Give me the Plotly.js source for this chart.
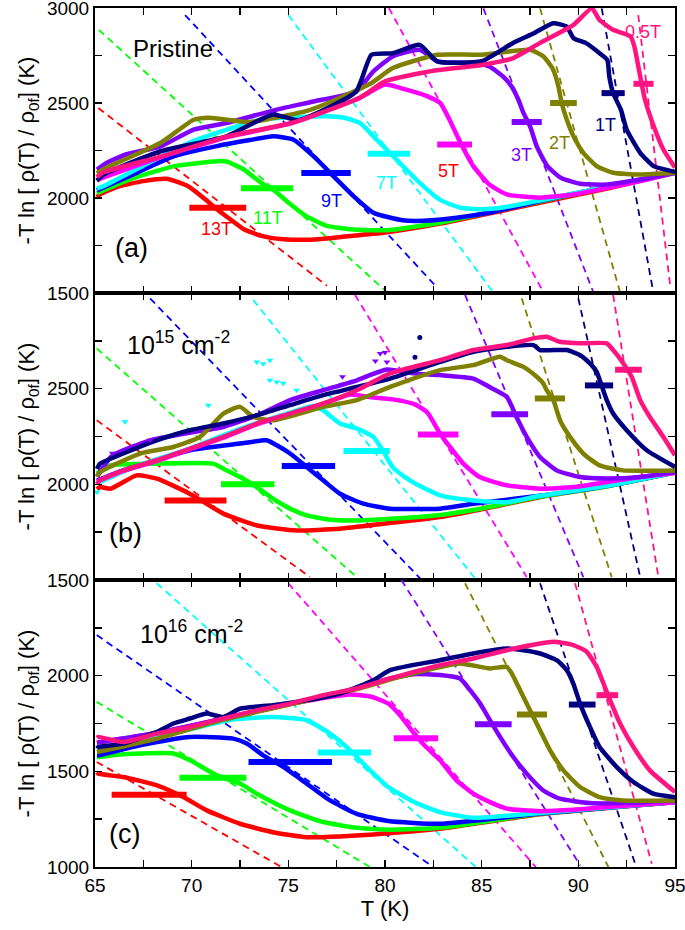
<!DOCTYPE html>
<html>
<head>
<meta charset="utf-8">
<script src="https://cdn.plot.ly/plotly-3.0.1.min.js"></script>
<style>
  body { margin: 0; background: #fff; }
  #viz { width: 685px; height: 930px; }
</style>
</head>
<body>
<div id="viz"></div>
<script>
// field order used everywhere below
var fields = ['13T', '11T', '9T', '7T', '5T', '3T', '2T', '1T', '0.5T'];
var colors = ['#ff0000', '#00ff00', '#0000ff', '#00ffff', '#ff00ff', '#8000ff', '#808000', '#000080', '#ff1480'];

// ---------- panel (a) : pristine ----------
var aT13 = [65.1, 65.26, 66.2, 67.5, 68.7, 69.8, 70.7, 71.3, 72.0, 72.7, 73.6, 74.75, 75.9, 77.0, 78.2, 80.0, 82.85, 85, 88, 91.5, 95];
var aV13 = [2005, 2019, 2060, 2089, 2101, 2063, 1993, 1941, 1888, 1836, 1801, 1783, 1780, 1787, 1800, 1818, 1865, 1910, 1975, 2050, 2133];
var aT11 = [65.1, 66.8, 69.1, 71.3, 71.8, 72.7, 73.6, 74.3, 75.0, 75.9, 77.0, 78.2, 79.3, 80.4, 82.85, 85, 88, 91.5, 95];
var aV11 = [2025, 2098, 2168, 2194, 2192, 2150, 2080, 2037, 1976, 1906, 1853, 1836, 1830, 1833, 1870, 1916, 1982, 2058, 2133];
var aT9 = [65.1, 66.8, 69.1, 71.3, 73.0, 74.24, 75.27, 76.3, 77.33, 78.37, 79.4, 80.9, 82.0, 83.8, 85.5, 88, 91.5, 95];
var aV9 = [2040, 2116, 2220, 2273, 2305, 2325, 2307, 2220, 2115, 2010, 1923, 1883, 1880, 1897, 1925, 1984, 2060, 2133];
var aT7 = [65.1, 65.43, 67.5, 70.08, 73.54, 75.9, 77.0, 78.0, 78.7, 79.57, 80.3, 81.1, 81.8, 82.85, 83.9, 85.0, 86.1, 88, 91.5, 95];
var aV7 = [2050, 2062, 2170, 2300, 2412, 2428, 2430, 2420, 2395, 2307, 2233, 2150, 2080, 1990, 1949, 1941, 1950, 1987, 2060, 2133];
var aT5 = [65.1, 68.4, 71.8, 75.2, 78.7, 80.0, 81.1, 82.2, 82.85, 83.3, 83.9, 84.57, 85.4, 86.3, 88.0, 89.75, 91.5, 93.2, 95];
var aV5 = [2095, 2215, 2320, 2395, 2528, 2597, 2570, 2535, 2501, 2420, 2291, 2168, 2071, 2019, 2002, 2019, 2054, 2089, 2132];
var aT3 = [65.1, 65.6, 66.6, 68.4, 70.1, 71.8, 74.4, 76.3, 78.5, 79.4, 80.4, 81.8, 82.7, 84.57, 85.4, 86.1, 86.55, 86.9, 87.16, 87.5, 87.85, 88.4, 89.1, 90.1, 91.5, 93.2, 95];
var aV3 = [2150, 2185, 2229, 2272, 2360, 2395, 2465, 2508, 2560, 2666, 2745, 2780, 2719, 2710, 2692, 2640, 2587, 2517, 2448, 2378, 2272, 2168, 2106, 2075, 2071, 2097, 2132];
var aT2 = [65.1, 65.4, 68.4, 70.1, 70.9, 73.0, 76.0, 77.5, 79.3, 80.4, 82.7, 85.0, 87.5, 88.2, 88.7, 88.97, 89.14, 89.4, 89.75, 90.26, 90.95, 91.8, 93.2, 95];
var aV2 = [2130, 2150, 2291, 2412, 2423, 2400, 2460, 2520, 2605, 2684, 2754, 2754, 2780, 2745, 2675, 2587, 2500, 2413, 2325, 2238, 2168, 2133, 2124, 2133];
var aT1 = [65.1, 65.45, 68.4, 71.8, 74.2, 75.5, 78.5, 79.3, 80.4, 81.8, 82.7, 85.0, 86.6, 87.7, 88.7, 89.4, 89.75, 90.4, 91.1, 91.5, 91.6, 91.8, 92.2, 92.5, 93.2, 93.9, 95];
var aV1 = [2090, 2124, 2246, 2325, 2440, 2410, 2560, 2754, 2762, 2806, 2719, 2720, 2815, 2867, 2920, 2902, 2841, 2815, 2762, 2727, 2640, 2552, 2465, 2360, 2238, 2168, 2138];
var aT05 = [65.1, 65.4, 68.4, 71.8, 75.2, 78.7, 80.0, 82.5, 85.0, 86.6, 88.0, 89.75, 90.7, 91.1, 91.8, 92.7, 92.9, 93.2, 93.45, 93.9, 94.4, 95];
var aV05 = [2110, 2134, 2218, 2323, 2396, 2528, 2614, 2670, 2700, 2735, 2815, 2911, 2998, 2937, 2885, 2850, 2797, 2640, 2517, 2378, 2255, 2160];

var aDashT0 = [65.17, 65.2, 69.66, 75.0, 80.2, 85.09, 88.02, 91.21, 93.1];
var aDashV0 = [2474, 2885, 2963, 2963, 3000, 2998, 2998, 2998, 2963];
var aDashT1 = [77.0, 80.1, 82.6, 85.6, 88.2, 90.78, 92.16, 93.88, 94.75];
var aDashV1 = [1538, 1504, 1539, 1503, 1503, 1503, 1503, 1503, 1538];

var aTc = [71.35, 73.9, 76.95, 80.2, 83.6, 87.33, 89.23, 91.8, 93.37];
var aTcErr = [1.47, 1.35, 1.28, 1.1, 0.9, 0.78, 0.69, 0.6, 0.52];
var aTcV = [1949, 2051, 2131, 2233, 2282, 2400, 2500, 2552, 2601];

// field labels (panel a only): T, value
var labT = [71.3, 73.97, 77.25, 80.1, 83.3, 87.07, 89.05, 91.38, 93.37];
var labV = [1835, 1897, 1984, 2081, 2141, 2229, 2290, 2386, 2876];
var labColors = ['#ff0000', '#00ff00', '#0000ff', '#00ffff', '#ff0000', '#8000ff', '#808000', '#000080', '#ff1480'];

// ---------- panel (b) : 10^15 cm^-2 ----------
var bT13 = [65.1, 65.26, 65.8, 67.16, 68.2, 69.9, 71.64, 73.37, 75.43, 77.67, 80.0, 82.85, 85.0, 88.0, 91.5, 95];
var bV13 = [1975, 1986, 1977, 2047, 2030, 1951, 1847, 1785, 1759, 1768, 1795, 1829, 1870, 1933, 1990, 2062];
var bT11 = [65.1, 65.8, 68.2, 71.1, 71.64, 72.5, 73.37, 74.2, 75.09, 75.95, 77.16, 78.54, 80.26, 82.85, 85, 88, 91.5, 95];
var bV11 = [2056, 2099, 2108, 2108, 2082, 2038, 1986, 1925, 1873, 1838, 1815, 1811, 1820, 1840, 1874, 1935, 1990, 2062];
var bT9 = [65.1, 66.46, 69.91, 72.5, 73.88, 74.4, 75.09, 75.95, 76.8, 77.67, 78.88, 80.26, 82.85, 84.57, 88, 91.5, 95];
var bV9 = [2020, 2073, 2178, 2213, 2230, 2204, 2161, 2091, 2021, 1951, 1899, 1873, 1873, 1899, 1940, 1992, 2062];
var bT7 = [65.1, 67.0, 69.9, 72.5, 75.09, 76.3, 76.8, 77.67, 78.54, 79.4, 79.9, 80.4, 81.0, 81.55, 82.85, 84.57, 86.3, 88, 91.5, 95];
var bV7 = [2005, 2090, 2187, 2290, 2375, 2410, 2387, 2318, 2292, 2248, 2174, 2090, 2040, 2005, 1942, 1916, 1907, 1940, 1992, 2062];
var bT5 = [65.1, 66.46, 68.19, 69.91, 71.64, 73.37, 75.09, 76.8, 78.2, 79.3, 80.4, 81.55, 82.2, 82.85, 83.37, 84.05, 84.9, 86.3, 88.02, 89.74, 91.47, 93.2, 95];
var bV5 = [2015, 2070, 2122, 2183, 2244, 2314, 2366, 2420, 2470, 2455, 2444, 2418, 2374, 2265, 2195, 2108, 2038, 1995, 1977, 1986, 2012, 2038, 2059];
var bT3 = [65.1, 65.9, 67.85, 69.9, 71.64, 73.37, 75.09, 76.8, 78.54, 80.1, 81.5, 82.85, 84.57, 85.4, 86.3, 86.8, 87.33, 88.02, 88.88, 90.09, 91.47, 93.2, 95];
var bV3 = [2040, 2150, 2230, 2270, 2300, 2360, 2440, 2492, 2544, 2600, 2580, 2571, 2553, 2509, 2457, 2352, 2248, 2143, 2073, 2038, 2030, 2038, 2064];
var bT2 = [65.1, 65.26, 67.33, 69.05, 70.43, 71.64, 72.5, 73.19, 74.2, 76.8, 78.54, 80.26, 82.85, 84.57, 85.95, 86.3, 87.16, 87.85, 88.19, 88.36, 88.71, 89.05, 89.57, 90.26, 91.1, 92.3, 95];
var bV2 = [2040, 2064, 2161, 2195, 2248, 2370, 2405, 2352, 2335, 2405, 2440, 2509, 2597, 2623, 2667, 2649, 2614, 2562, 2527, 2492, 2440, 2335, 2248, 2161, 2099, 2073, 2073];
var bT1 = [65.1, 65.26, 66.46, 68.19, 69.91, 71.64, 73.37, 75.09, 76.8, 78.54, 80.26, 82.85, 84.57, 86.3, 87.68, 88.02, 89.4, 90.09, 90.6, 90.95, 91.2, 91.47, 91.8, 92.5, 93.54, 95];
var bV1 = [2080, 2108, 2161, 2230, 2283, 2318, 2361, 2414, 2466, 2509, 2553, 2640, 2693, 2719, 2728, 2702, 2702, 2675, 2632, 2588, 2518, 2440, 2370, 2283, 2178, 2091];
var bT05 = [65.1, 65.26, 66.46, 68.19, 69.91, 71.64, 73.37, 75.09, 76.8, 78.54, 80.26, 82.85, 84.57, 86.3, 87.68, 88.36, 89.05, 90.09, 91.47, 91.8, 92.33, 92.76, 93.2, 93.7, 94.4, 95];
var bV05 = [2000, 2021, 2073, 2126, 2187, 2248, 2318, 2370, 2423, 2492, 2580, 2649, 2702, 2728, 2763, 2771, 2745, 2737, 2737, 2702, 2632, 2562, 2440, 2352, 2248, 2152];

// scattered points off the curves in panel (b)
var bOutCyanT = [65.1, 66.55, 70.86, 73.37, 73.7, 74.05, 74.05, 74.4, 74.74, 75.43];
var bOutCyanV = [1960, 2327, 2414, 2640, 2630, 2649, 2544, 2535, 2528, 2492];
var bOutVioT = [65.9, 67.85, 77.8, 79.5, 79.75, 80.0, 80.1];
var bOutVioV = [2162, 2230, 2563, 2645, 2684, 2689, 2640];
var bOutNavyT = [81.55, 81.8];
var bOutNavyV = [2664, 2767];

var bDashT0 = [65.09, 65.09, 67.85, 73.19, 78.45, 84.14, 87.07, 90.0, 91.8];
var bDashV0 = [2335, 2710, 2972, 2963, 2990, 2990, 2972, 2972, 2990];
var bDashT1 = [76.12, 78.54, 81.9, 84.75, 87.33, 90.26, 91.73, 93.2, 94.14];
var bDashV1 = [1515, 1515, 1500, 1497, 1515, 1515, 1515, 1515, 1515];

var bTc = [70.2, 72.9, 76.04, 79.05, 82.75, 86.45, 88.53, 91.07, 92.59];
var bTcErr = [1.6, 1.38, 1.38, 1.2, 1.05, 0.95, 0.78, 0.73, 0.69];
var bTcV = [1916, 2000, 2096, 2174, 2261, 2366, 2449, 2517, 2599];

// ---------- panel (c) : 10^16 cm^-2 ----------
var cT13 = [65.1, 65.17, 66.46, 68.2, 69.57, 70.78, 72.5, 74.2, 75.95, 77.67, 79.4, 80.26, 82.85, 88.0, 95];
var cV13 = [1495, 1488, 1470, 1427, 1366, 1296, 1226, 1182, 1156, 1160, 1170, 1177, 1200, 1276, 1339];
var cT11 = [65.1, 65.17, 66.46, 69.05, 69.91, 71.3, 72.5, 73.37, 75.09, 76.8, 78.54, 80.26, 82.85, 88.0, 95];
var cV11 = [1575, 1575, 1589, 1593, 1558, 1479, 1436, 1383, 1296, 1235, 1205, 1195, 1205, 1278, 1340];
var cT9 = [65.1, 65.17, 67.33, 69.91, 72.15, 72.85, 73.7, 74.74, 75.95, 77.16, 78.54, 80.17, 82.85, 88.0, 95];
var cV9 = [1584, 1584, 1636, 1680, 1671, 1645, 1584, 1523, 1436, 1348, 1278, 1240, 1226, 1280, 1340];
var cT7 = [65.1, 67.33, 69.91, 72.0, 74.2, 75.95, 77.16, 78.2, 79.23, 80.17, 81.5, 82.85, 84.57, 88.0, 95];
var cV7 = [1610, 1665, 1720, 1770, 1784, 1767, 1697, 1610, 1505, 1418, 1340, 1287, 1257, 1282, 1340];
var cT5 = [65.1, 68.2, 71.64, 75.09, 78.2, 79.3, 80.2, 80.8, 81.4, 82.0, 82.85, 83.7, 84.57, 85.43, 86.3, 88.02, 89.74, 91.47, 95];
var cV5 = [1650, 1700, 1776, 1852, 1902, 1890, 1852, 1790, 1712, 1640, 1558, 1453, 1383, 1339, 1305, 1292, 1299, 1313, 1339];
var cT3 = [65.1, 68.2, 71.64, 75.09, 78.54, 80.26, 81.5, 82.85, 83.88, 84.4, 84.92, 85.43, 85.95, 86.64, 87.33, 88.19, 89.05, 90.6, 92.33, 95];
var cV3 = [1650, 1700, 1776, 1852, 1933, 1985, 2008, 2003, 1985, 1924, 1854, 1767, 1680, 1575, 1488, 1400, 1357, 1334, 1334, 1348];
var cT2 = [65.1, 66.46, 68.2, 71.64, 75.09, 78.54, 80.26, 82.85, 83.88, 85.43, 86.3, 86.56, 86.99, 87.5, 88.02, 88.54, 89.23, 90.09, 91.1, 92.33, 95];
var cV2 = [1601, 1630, 1671, 1770, 1850, 1930, 1980, 2045, 2064, 2038, 2046, 2011, 1924, 1819, 1715, 1610, 1505, 1418, 1365, 1348, 1348];
var cT1 = [65.1, 65.17, 66.46, 68.2, 69.05, 69.91, 70.78, 71.64, 72.5, 74.2, 75.95, 77.67, 79.4, 80.26, 82.85, 84.57, 86.3, 87.16, 88.02, 88.88, 89.4, 89.74, 90.09, 90.6, 91.1, 91.99, 92.85, 93.88, 95];
var cV1 = [1620, 1627, 1645, 1706, 1750, 1776, 1802, 1784, 1828, 1846, 1872, 1907, 1976, 2029, 2081, 2116, 2142, 2133, 2116, 2081, 2029, 1959, 1854, 1732, 1627, 1522, 1444, 1383, 1365];
var cT05 = [65.1, 65.17, 66.46, 68.2, 69.91, 71.64, 73.37, 75.09, 76.8, 78.54, 80.26, 82.85, 84.57, 86.3, 88.02, 88.71, 89.74, 90.43, 90.95, 91.3, 91.64, 92.16, 92.85, 93.7, 95];
var cV05 = [1675, 1680, 1653, 1697, 1732, 1776, 1819, 1854, 1898, 1933, 1985, 2055, 2090, 2133, 2168, 2177, 2160, 2125, 2046, 1959, 1872, 1750, 1627, 1505, 1392];

var cDashT0 = [65.09, 65.09, 65.09, 68.19, 75.0, 80.85, 84.14, 88.02, 89.83];
var cDashV0 = [1549, 1863, 2212, 2483, 2483, 2500, 2483, 2483, 2483];
var cDashT1 = [74.66, 79.23, 82.5, 84.7, 87.8, 90.1, 91.56, 93.0, 93.8];
var cDashV1 = [999, 999, 1000, 1000, 1000, 1008, 999, 999, 1017];

var cTc = [67.8, 71.1, 75.1, 77.9, 81.6, 85.6, 87.6, 90.2, 91.5];
var cTcErr = [1.94, 1.73, 2.16, 1.38, 1.15, 0.95, 0.78, 0.69, 0.56];
var cTcV = [1378, 1467, 1549, 1599, 1673, 1746, 1797, 1849, 1898];

// axis ticks: labelled ticks and the unlabelled ones in between
var xTicks = [65, 70, 75, 80, 85, 90, 95];
var xMinor = [67.5, 72.5, 77.5, 82.5, 87.5, 92.5];
var aTicks = [1500, 2000, 2500, 3000];
var aMinor = [1750, 2250, 2750];
var bTicks = [1500, 2000, 2500];
var bMinor = [1750, 2250, 2750, 3000];
var cTicks = [1000, 1500, 2000];
var cMinor = [1250, 1750, 2250, 2500];

var aCurves = [[aT13, aV13], [aT11, aV11], [aT9, aV9], [aT7, aV7], [aT5, aV5], [aT3, aV3], [aT2, aV2], [aT1, aV1], [aT05, aV05]];
var bCurves = [[bT13, bV13], [bT11, bV11], [bT9, bV9], [bT7, bV7], [bT5, bV5], [bT3, bV3], [bT2, bV2], [bT1, bV1], [bT05, bV05]];
var cCurves = [[cT13, cV13], [cT11, cV11], [cT9, cV9], [cT7, cV7], [cT5, cV5], [cT3, cV3], [cT2, cV2], [cT1, cV1], [cT05, cV05]];

var data = [];
var FONT = 'Liberation Sans, Arial, sans-serif';

function addPanel(xa, ya, curves, dT0, dV0, dT1, dV1, tc, tcErr, tcV) {
  var i;
  for (i = 0; i < fields.length; i++) {
    data.push({
      x: [dT0[i], dT1[i]], y: [dV0[i], dV1[i]], mode: 'lines',
      line: { color: colors[i], width: 1.8, dash: '7px,5px' },
      xaxis: xa, yaxis: ya, hoverinfo: 'skip'
    });
  }
  for (i = 0; i < fields.length; i++) {
    data.push({
      x: curves[i][0], y: curves[i][1], mode: 'lines', name: fields[i],
      line: { color: colors[i], width: 4.5, shape: 'spline', smoothing: 0.5 },
      xaxis: xa, yaxis: ya
    });
  }
  for (i = 0; i < fields.length; i++) {
    data.push({
      x: [tc[i]], y: [tcV[i]], mode: 'markers',
      marker: { color: colors[i], size: 2 },
      error_x: { type: 'data', array: [tcErr[i]], color: colors[i], thickness: 6, width: 0 },
      xaxis: xa, yaxis: ya, hoverinfo: 'skip'
    });
  }
}

addPanel('x', 'y', aCurves, aDashT0, aDashV0, aDashT1, aDashV1, aTc, aTcErr, aTcV);
addPanel('x2', 'y2', bCurves, bDashT0, bDashV0, bDashT1, bDashV1, bTc, bTcErr, bTcV);
addPanel('x3', 'y3', cCurves, cDashT0, cDashV0, cDashT1, cDashV1, cTc, cTcErr, cTcV);

data.push({ x: bOutCyanT, y: bOutCyanV, mode: 'markers', marker: { color: '#00ffff', symbol: 'triangle-down', size: 6 }, xaxis: 'x2', yaxis: 'y2' });
data.push({ x: bOutVioT, y: bOutVioV, mode: 'markers', marker: { color: '#8000ff', symbol: 'triangle-down', size: 6 }, xaxis: 'x2', yaxis: 'y2' });
data.push({ x: bOutNavyT, y: bOutNavyV, mode: 'markers', marker: { color: '#000080', size: 5 }, xaxis: 'x2', yaxis: 'y2' });

function xAxis(anchor, labels) {
  return {
    range: [65, 95], anchor: anchor, domain: [0, 1],
    tickmode: 'array', tickvals: xTicks,
    minor: { tickmode: 'array', tickvals: xMinor, ticks: 'inside', ticklen: 7, tickwidth: 1.5, tickcolor: '#000', showgrid: false },
    showticklabels: labels, ticks: 'inside', ticklen: 7, tickwidth: 1.5, tickcolor: '#000',
    showline: true, linecolor: '#000', linewidth: 2, mirror: 'ticks',
    showgrid: false, zeroline: false, ticklabeloverflow: 'allow',
    tickfont: { family: FONT, size: 19, color: '#000' }
  };
}

function yAxis(anchor, dom, range, vals, minor) {
  return {
    range: range, anchor: anchor, domain: dom,
    tickmode: 'array', tickvals: vals,
    minor: { tickmode: 'array', tickvals: minor, ticks: 'inside', ticklen: 7, tickwidth: 1.5, tickcolor: '#000', showgrid: false },
    ticks: 'inside', ticklen: 7, tickwidth: 1.5, tickcolor: '#000',
    showline: true, linecolor: '#000', linewidth: 2, mirror: 'ticks',
    showgrid: false, zeroline: false, automargin: false, ticklabeloverflow: 'allow',
    tickfont: { family: FONT, size: 19, color: '#000' },
    title: { text: '-T ln [ \u03c1(T) / \u03c1<sub>0f</sub>] (K)', font: { family: FONT, size: 22, color: '#000' }, standoff: 6 }
  };
}

var xa = xAxis('y', false);
var xb = xAxis('y2', false);
var xc = xAxis('y3', true);
xc.title = { text: 'T (K)', font: { family: FONT, size: 22, color: '#000' }, standoff: 6 };

var annotations = [];
for (var k = 0; k < fields.length; k++) {
  annotations.push({ x: labT[k], y: labV[k], xref: 'x', yref: 'y', text: fields[k], showarrow: false,
    font: { family: FONT, size: 18, color: labColors[k] } });
}
annotations.push({ x: 69.05, y: 2788, xref: 'x', yref: 'y', text: 'Pristine', showarrow: false, font: { family: FONT, size: 24, color: '#000' } });
annotations.push({ x: 66.9, y: 1739, xref: 'x', yref: 'y', text: '(a)', showarrow: false, font: { family: FONT, size: 27, color: '#000' } });
annotations.push({ x: 69.3, y: 2741, xref: 'x2', yref: 'y2', text: '10<sup>15</sup> cm<sup>-2</sup>', showarrow: false, font: { family: FONT, size: 25, color: '#000' } });
annotations.push({ x: 66.6, y: 1745, xref: 'x2', yref: 'y2', text: '(b)', showarrow: false, font: { family: FONT, size: 27, color: '#000' } });
annotations.push({ x: 70.0, y: 2226, xref: 'x3', yref: 'y3', text: '10<sup>16</sup> cm<sup>-2</sup>', showarrow: false, font: { family: FONT, size: 25, color: '#000' } });
annotations.push({ x: 66.5, y: 1175, xref: 'x3', yref: 'y3', text: '(c)', showarrow: false, font: { family: FONT, size: 27, color: '#000' } });

var layout = {
  width: 685, height: 930,
  margin: { l: 95, r: 10, t: 8, b: 63 },
  paper_bgcolor: '#fff', plot_bgcolor: '#fff',
  showlegend: false,
  font: { family: FONT, color: '#000' },
  xaxis: xa, xaxis2: xb, xaxis3: xc,
  yaxis: yAxis('x', [0.6682, 1], [1500, 3000], aTicks, aMinor),
  yaxis2: yAxis('x2', [0.3341, 0.6682], [1500, 3000], bTicks, bMinor),
  yaxis3: yAxis('x3', [0, 0.3341], [1000, 2500], cTicks, cMinor),
  annotations: annotations
};

Plotly.newPlot('viz', data, layout, { displayModeBar: false, staticPlot: true });
</script>
</body>
</html>
